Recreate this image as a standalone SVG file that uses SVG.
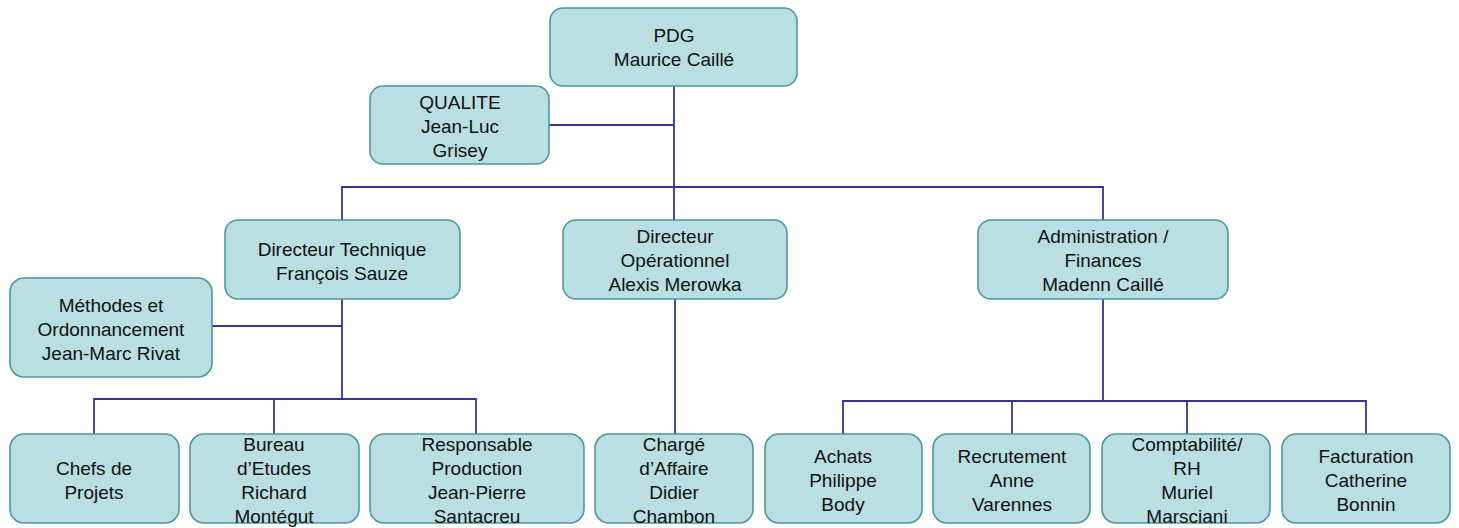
<svg xmlns="http://www.w3.org/2000/svg" width="1459" height="528" viewBox="0 0 1459 528">
  <style>
    .box { fill: #b9dfe2; stroke: #4f979d; stroke-width: 1.6; }
    .lbl { font-family: "Liberation Sans", Arial, sans-serif; font-size: 19px; fill: #111; text-anchor: middle; }
    .wire { fill: none; stroke: #33339b; stroke-width: 1.8; }
  </style>
  <rect width="1459" height="528" fill="#ffffff"/>

  <!-- connectors -->
  <g id="connectors">
    <path class="wire" d="M674 86 V187"/>
    <path class="wire" d="M549 125 H674"/>
    <path class="wire" d="M342 220 V187 H1103 V220"/>
    <path class="wire" d="M674 187 V220"/>
    <!-- technical branch -->
    <path class="wire" d="M342 299 V399"/>
    <path class="wire" d="M212 326 H342"/>
    <path class="wire" d="M94 434 V399 H476 V434"/>
    <path class="wire" d="M274 399 V434"/>
    <!-- operational branch -->
    <path class="wire" d="M675 299 V434"/>
    <!-- administration branch -->
    <path class="wire" d="M1103 299 V401"/>
    <path class="wire" d="M843 434 V401 H1366 V434"/>
    <path class="wire" d="M1012 401 V434"/>
    <path class="wire" d="M1187 401 V434"/>
  </g>

  <g id="pdg">
    <rect class="box" x="550" y="8" width="247" height="78" rx="13"/>
    <text class="lbl" x="674" y="42">PDG</text>
    <text class="lbl" x="674" y="66">Maurice Caillé</text>
  </g>

  <g id="qualite">
    <rect class="box" x="370" y="86" width="179" height="78" rx="13"/>
    <text class="lbl" x="460" y="109">QUALITE</text>
    <text class="lbl" x="460" y="133">Jean-Luc</text>
    <text class="lbl" x="460" y="157">Grisey</text>
  </g>

  <g id="dir-technique">
    <rect class="box" x="225" y="220" width="235" height="79" rx="13"/>
    <text class="lbl" x="342" y="256">Directeur Technique</text>
    <text class="lbl" x="342" y="280">François Sauze</text>
  </g>

  <g id="dir-operationnel">
    <rect class="box" x="563" y="220" width="224" height="79" rx="13"/>
    <text class="lbl" x="675" y="243">Directeur</text>
    <text class="lbl" x="675" y="267">Opérationnel</text>
    <text class="lbl" x="675" y="291">Alexis Merowka</text>
  </g>

  <g id="administration">
    <rect class="box" x="978" y="220" width="250" height="79" rx="13"/>
    <text class="lbl" x="1103" y="243">Administration /</text>
    <text class="lbl" x="1103" y="267">Finances</text>
    <text class="lbl" x="1103" y="291">Madenn Caillé</text>
  </g>

  <g id="methodes">
    <rect class="box" x="10" y="278" width="202" height="99" rx="14"/>
    <text class="lbl" x="111" y="312">Méthodes et</text>
    <text class="lbl" x="111" y="336">Ordonnancement</text>
    <text class="lbl" x="111" y="360">Jean-Marc Rivat</text>
  </g>

  <g id="chefs-projets">
    <rect class="box" x="10" y="434" width="169" height="89" rx="14"/>
    <text class="lbl" x="94" y="475">Chefs de</text>
    <text class="lbl" x="94" y="499">Projets</text>
  </g>

  <g id="bureau-etudes">
    <rect class="box" x="190" y="434" width="169" height="89" rx="14"/>
    <text class="lbl" x="274" y="451">Bureau</text>
    <text class="lbl" x="274" y="475">d’Etudes</text>
    <text class="lbl" x="274" y="499">Richard</text>
    <text class="lbl" x="274" y="523">Montégut</text>
  </g>

  <g id="resp-production">
    <rect class="box" x="370" y="434" width="214" height="89" rx="14"/>
    <text class="lbl" x="477" y="451">Responsable</text>
    <text class="lbl" x="477" y="475">Production</text>
    <text class="lbl" x="477" y="499">Jean-Pierre</text>
    <text class="lbl" x="477" y="523">Santacreu</text>
  </g>

  <g id="charge-affaire">
    <rect class="box" x="595" y="434" width="158" height="89" rx="14"/>
    <text class="lbl" x="674" y="451">Chargé</text>
    <text class="lbl" x="674" y="475">d’Affaire</text>
    <text class="lbl" x="674" y="499">Didier</text>
    <text class="lbl" x="674" y="523">Chambon</text>
  </g>

  <g id="achats">
    <rect class="box" x="765" y="434" width="157" height="89" rx="14"/>
    <text class="lbl" x="843" y="463">Achats</text>
    <text class="lbl" x="843" y="487">Philippe</text>
    <text class="lbl" x="843" y="511">Body</text>
  </g>

  <g id="recrutement">
    <rect class="box" x="933" y="434" width="157" height="89" rx="14"/>
    <text class="lbl" x="1012" y="463">Recrutement</text>
    <text class="lbl" x="1012" y="487">Anne</text>
    <text class="lbl" x="1012" y="511">Varennes</text>
  </g>

  <g id="comptabilite">
    <rect class="box" x="1102" y="434" width="168" height="89" rx="14"/>
    <text class="lbl" x="1187" y="451">Comptabilité/</text>
    <text class="lbl" x="1187" y="475">RH</text>
    <text class="lbl" x="1187" y="499">Muriel</text>
    <text class="lbl" x="1187" y="523">Marsciani</text>
  </g>

  <g id="facturation">
    <rect class="box" x="1282" y="434" width="168" height="89" rx="14"/>
    <text class="lbl" x="1366" y="463">Facturation</text>
    <text class="lbl" x="1366" y="487">Catherine</text>
    <text class="lbl" x="1366" y="511">Bonnin</text>
  </g>
</svg>
